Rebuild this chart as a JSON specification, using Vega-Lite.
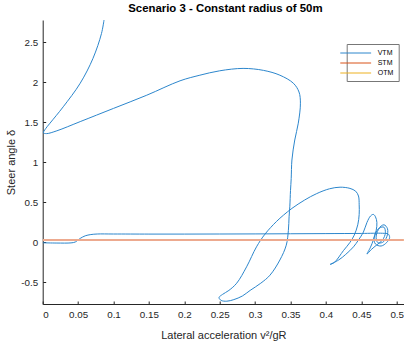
{
  "$schema": "https://vega.github.io/schema/vega-lite/v6.json",
  "width": 361.3,
  "height": 284,
  "autosize": {"type": "none"},
  "padding": {"left": 42.7, "top": 20, "right": 0, "bottom": 40},
  "background": "white",
  "title": {
    "text": "Scenario 3 - Constant radius of 50m",
    "font": "Liberation Sans",
    "fontSize": 11.4,
    "fontWeight": "bold",
    "color": "#000000",
    "anchor": "middle",
    "baseline": "bottom",
    "offset": 4,
    "dy": 9.5,
    "dx": 2
  },
  "data": {
    "values": [
      {"model": "VTM", "t": 0, "a": 0.000, "delta": -0.005},
      {"model": "VTM", "t": 1, "a": 0.020, "delta": -0.008},
      {"model": "VTM", "t": 2, "a": 0.040, "delta": -0.006},
      {"model": "VTM", "t": 3, "a": 0.046, "delta": 0.005},
      {"model": "VTM", "t": 4, "a": 0.053, "delta": 0.05},
      {"model": "VTM", "t": 5, "a": 0.060, "delta": 0.082},
      {"model": "VTM", "t": 6, "a": 0.068, "delta": 0.098},
      {"model": "VTM", "t": 7, "a": 0.077, "delta": 0.105},
      {"model": "VTM", "t": 8, "a": 0.100, "delta": 0.105},
      {"model": "VTM", "t": 9, "a": 0.150, "delta": 0.104},
      {"model": "VTM", "t": 10, "a": 0.200, "delta": 0.104},
      {"model": "VTM", "t": 11, "a": 0.250, "delta": 0.105},
      {"model": "VTM", "t": 12, "a": 0.300, "delta": 0.106},
      {"model": "VTM", "t": 13, "a": 0.350, "delta": 0.108},
      {"model": "VTM", "t": 14, "a": 0.400, "delta": 0.110},
      {"model": "VTM", "t": 15, "a": 0.450, "delta": 0.112},
      {"model": "VTM", "t": 16, "a": 0.480, "delta": 0.114},
      {"model": "VTM", "t": 17, "a": 0.488, "delta": 0.105},
      {"model": "VTM", "t": 18, "a": 0.490, "delta": 0.06},
      {"model": "VTM", "t": 19, "a": 0.486, "delta": 0.0},
      {"model": "VTM", "t": 20, "a": 0.478, "delta": -0.045},
      {"model": "VTM", "t": 21, "a": 0.470, "delta": -0.02},
      {"model": "VTM", "t": 22, "a": 0.468, "delta": 0.06},
      {"model": "VTM", "t": 23, "a": 0.474, "delta": 0.17},
      {"model": "VTM", "t": 24, "a": 0.482, "delta": 0.22},
      {"model": "VTM", "t": 25, "a": 0.487, "delta": 0.17},
      {"model": "VTM", "t": 26, "a": 0.486, "delta": 0.07},
      {"model": "VTM", "t": 27, "a": 0.480, "delta": 0.0},
      {"model": "VTM", "t": 28, "a": 0.473, "delta": 0.0},
      {"model": "VTM", "t": 29, "a": 0.471, "delta": 0.08},
      {"model": "VTM", "t": 30, "a": 0.476, "delta": 0.18},
      {"model": "VTM", "t": 31, "a": 0.482, "delta": 0.19},
      {"model": "VTM", "t": 32, "a": 0.484, "delta": 0.12},
      {"model": "VTM", "t": 33, "a": 0.480, "delta": 0.03},
      {"model": "VTM", "t": 34, "a": 0.472, "delta": -0.03},
      {"model": "VTM", "t": 35, "a": 0.464, "delta": -0.09},
      {"model": "VTM", "t": 36, "a": 0.458, "delta": -0.146},
      {"model": "VTM", "t": 37, "a": 0.463, "delta": -0.06},
      {"model": "VTM", "t": 38, "a": 0.467, "delta": 0.03},
      {"model": "VTM", "t": 39, "a": 0.471, "delta": 0.15},
      {"model": "VTM", "t": 40, "a": 0.472, "delta": 0.25},
      {"model": "VTM", "t": 41, "a": 0.470, "delta": 0.32},
      {"model": "VTM", "t": 42, "a": 0.467, "delta": 0.35},
      {"model": "VTM", "t": 43, "a": 0.463, "delta": 0.33},
      {"model": "VTM", "t": 44, "a": 0.458, "delta": 0.25},
      {"model": "VTM", "t": 45, "a": 0.453, "delta": 0.13},
      {"model": "VTM", "t": 46, "a": 0.446, "delta": 0.03},
      {"model": "VTM", "t": 47, "a": 0.439, "delta": -0.055},
      {"model": "VTM", "t": 48, "a": 0.428, "delta": -0.15},
      {"model": "VTM", "t": 49, "a": 0.418, "delta": -0.22},
      {"model": "VTM", "t": 50, "a": 0.406, "delta": -0.275},
      {"model": "VTM", "t": 51, "a": 0.412, "delta": -0.25},
      {"model": "VTM", "t": 52, "a": 0.425, "delta": -0.10},
      {"model": "VTM", "t": 53, "a": 0.434, "delta": 0.0},
      {"model": "VTM", "t": 54, "a": 0.440, "delta": 0.09},
      {"model": "VTM", "t": 55, "a": 0.445, "delta": 0.22},
      {"model": "VTM", "t": 56, "a": 0.447, "delta": 0.35},
      {"model": "VTM", "t": 57, "a": 0.447, "delta": 0.47},
      {"model": "VTM", "t": 58, "a": 0.446, "delta": 0.58},
      {"model": "VTM", "t": 59, "a": 0.442, "delta": 0.64},
      {"model": "VTM", "t": 60, "a": 0.434, "delta": 0.675},
      {"model": "VTM", "t": 61, "a": 0.420, "delta": 0.69},
      {"model": "VTM", "t": 62, "a": 0.405, "delta": 0.67},
      {"model": "VTM", "t": 63, "a": 0.387, "delta": 0.61},
      {"model": "VTM", "t": 64, "a": 0.370, "delta": 0.53},
      {"model": "VTM", "t": 65, "a": 0.352, "delta": 0.425},
      {"model": "VTM", "t": 66, "a": 0.340, "delta": 0.34},
      {"model": "VTM", "t": 67, "a": 0.330, "delta": 0.26},
      {"model": "VTM", "t": 68, "a": 0.314, "delta": 0.104},
      {"model": "VTM", "t": 69, "a": 0.302, "delta": -0.055},
      {"model": "VTM", "t": 70, "a": 0.288, "delta": -0.305},
      {"model": "VTM", "t": 71, "a": 0.274, "delta": -0.51},
      {"model": "VTM", "t": 72, "a": 0.263, "delta": -0.60},
      {"model": "VTM", "t": 73, "a": 0.254, "delta": -0.65},
      {"model": "VTM", "t": 74, "a": 0.249, "delta": -0.69},
      {"model": "VTM", "t": 75, "a": 0.252, "delta": -0.725},
      {"model": "VTM", "t": 76, "a": 0.260, "delta": -0.735},
      {"model": "VTM", "t": 77, "a": 0.270, "delta": -0.715},
      {"model": "VTM", "t": 78, "a": 0.282, "delta": -0.67},
      {"model": "VTM", "t": 79, "a": 0.293, "delta": -0.60},
      {"model": "VTM", "t": 80, "a": 0.308, "delta": -0.51},
      {"model": "VTM", "t": 81, "a": 0.321, "delta": -0.41},
      {"model": "VTM", "t": 82, "a": 0.335, "delta": -0.22},
      {"model": "VTM", "t": 83, "a": 0.344, "delta": -0.035},
      {"model": "VTM", "t": 84, "a": 0.347, "delta": 0.15},
      {"model": "VTM", "t": 85, "a": 0.348, "delta": 0.32},
      {"model": "VTM", "t": 86, "a": 0.349, "delta": 0.445},
      {"model": "VTM", "t": 87, "a": 0.350, "delta": 0.65},
      {"model": "VTM", "t": 88, "a": 0.351, "delta": 0.80},
      {"model": "VTM", "t": 89, "a": 0.352, "delta": 1.03},
      {"model": "VTM", "t": 90, "a": 0.356, "delta": 1.28},
      {"model": "VTM", "t": 91, "a": 0.361, "delta": 1.49},
      {"model": "VTM", "t": 92, "a": 0.364, "delta": 1.74},
      {"model": "VTM", "t": 93, "a": 0.362, "delta": 1.88},
      {"model": "VTM", "t": 94, "a": 0.354, "delta": 1.99},
      {"model": "VTM", "t": 95, "a": 0.335, "delta": 2.09},
      {"model": "VTM", "t": 96, "a": 0.312, "delta": 2.15},
      {"model": "VTM", "t": 97, "a": 0.283, "delta": 2.175},
      {"model": "VTM", "t": 98, "a": 0.250, "delta": 2.145},
      {"model": "VTM", "t": 99, "a": 0.222, "delta": 2.09},
      {"model": "VTM", "t": 100, "a": 0.194, "delta": 2.02},
      {"model": "VTM", "t": 101, "a": 0.147, "delta": 1.84},
      {"model": "VTM", "t": 102, "a": 0.100, "delta": 1.675},
      {"model": "VTM", "t": 103, "a": 0.053, "delta": 1.51},
      {"model": "VTM", "t": 104, "a": 0.020, "delta": 1.395},
      {"model": "VTM", "t": 105, "a": 0.0056, "delta": 1.36},
      {"model": "VTM", "t": 106, "a": 0.001, "delta": 1.37},
      {"model": "VTM", "t": 107, "a": 0.004, "delta": 1.42},
      {"model": "VTM", "t": 108, "a": 0.0103, "delta": 1.49},
      {"model": "VTM", "t": 109, "a": 0.029, "delta": 1.695},
      {"model": "VTM", "t": 110, "a": 0.053, "delta": 1.99},
      {"model": "VTM", "t": 111, "a": 0.071, "delta": 2.30},
      {"model": "VTM", "t": 112, "a": 0.083, "delta": 2.61},
      {"model": "VTM", "t": 113, "a": 0.0866, "delta": 2.78},
      {"model": "OTM", "t": 0, "a": 0.0, "delta": 0.03},
      {"model": "OTM", "t": 1, "a": 0.51, "delta": 0.03},
      {"model": "STM", "t": 0, "a": 0.0, "delta": 0.03},
      {"model": "STM", "t": 1, "a": 0.51, "delta": 0.03}
    ]
  },
  "encoding": {
    "x": {
      "field": "a",
      "type": "quantitative",
      "scale": {"domain": [0, 0.5103], "nice": false, "zero": false},
      "axis": {
        "title": "Lateral acceleration v²/gR",
        "values": [0, 0.05, 0.1, 0.15, 0.2, 0.25, 0.3, 0.35, 0.4, 0.45, 0.5],
        "labelExpr": "format(datum.value, '.2~f')",
        "grid": false,
        "tickSize": -3,
        "labelPadding": 8,
        "titlePadding": 11
      }
    },
    "y": {
      "field": "delta",
      "type": "quantitative",
      "scale": {"domain": [-0.77, 2.78], "nice": false, "zero": false},
      "axis": {
        "title": "Steer angle δ",
        "values": [-0.5, 0, 0.5, 1, 1.5, 2, 2.5],
        "labelExpr": "replace(format(datum.value, '.1~f'), '\u2212', '-')",
        "grid": false,
        "tickSize": -3,
        "labelPadding": 8,
        "titlePadding": 4
      }
    },
    "order": {"field": "t", "type": "quantitative"},
    "color": {
      "field": "model",
      "type": "nominal",
      "scale": {"domain": ["VTM", "STM", "OTM"], "range": ["#2C86CC", "#D95319", "#EDB120"]},
      "legend": {
        "orient": "none",
        "legendX": 304,
        "legendY": 24,
        "title": null,
        "symbolType": "M-5,0H5",
        "symbolSize": 38,
        "symbolStrokeWidth": 1,
        "symbolOpacity": 1,
        "labelOffset": 18,
        "rowPadding": 3,
        "padding": 5,
        "fillColor": "white",
        "strokeColor": "#777777"
      }
    }
  },
  "layer": [
    {
      "transform": [{"filter": "datum.model === 'VTM'"}],
      "mark": {"type": "line", "strokeWidth": 1, "interpolate": "catmull-rom", "clip": true}
    },
    {
      "transform": [{"filter": "datum.model === 'OTM'"}],
      "mark": {"type": "line", "strokeWidth": 1, "clip": true}
    },
    {
      "transform": [{"filter": "datum.model === 'STM'"}],
      "mark": {"type": "line", "strokeWidth": 2, "stroke": "#EDAA8F", "clip": true},
      "encoding": {"color": null}
    }
  ],
  "config": {
    "view": {"stroke": null},
    "font": "Liberation Sans",
    "axis": {
      "domainColor": "#262626",
      "tickColor": "#262626",
      "labelColor": "#262626",
      "titleColor": "#262626",
      "labelFont": "Liberation Sans",
      "titleFont": "Liberation Sans",
      "labelFontSize": 9.8,
      "titleFontSize": 11,
      "titleFontWeight": "normal"
    },
    "legend": {
      "labelFont": "Liberation Sans",
      "labelFontSize": 7,
      "labelColor": "#000000"
    }
  }
}
